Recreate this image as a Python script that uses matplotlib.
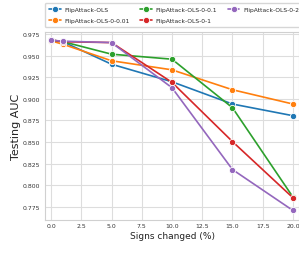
import matplotlib
matplotlib.use("Agg")
import matplotlib.pyplot as plt
import seaborn as sns

sns.set_style("whitegrid")
plt.rcParams['font.family'] = ['DejaVu Sans']

x = [0, 1, 5, 10, 15, 20]
labels = ["FlipAttack-OLS", "FlipAttack-OLS-0-0.01", "FlipAttack-OLS-0-0.1",
          "FlipAttack-OLS-0-1", "FlipAttack-OLS-0-2"]
ols = [0.9677, 0.9658, 0.9400, 0.9197, 0.8940, 0.8805]
ols_001 = [0.9670, 0.9630, 0.9440, 0.9335, 0.9105, 0.8940]
ols_01 = [0.9680, 0.9660, 0.9516, 0.9458, 0.8897, 0.7865]
ols_1 = [0.9680, 0.9660, 0.9650, 0.9190, 0.8506, 0.7857]
ols_2 = [0.9677, 0.9666, 0.9650, 0.9128, 0.8183, 0.7710]
series = [ols, ols_001, ols_01, ols_1, ols_2]
colors = ["#1f77b4", "#ff7f0e", "#2ca02c", "#d62728", "#9467bd"]

fig = plt.figure(figsize=(2.99, 2.55), dpi=100)
ax = fig.add_axes([45/299, 34/255, 254/299, (221-32.5)/255])
for s, c, l in zip(series, colors, labels):
    ax.plot(x, s, color=c, marker='o', markersize=4.5, linewidth=1.2,
            markeredgecolor='white', markeredgewidth=0.6, label=l)

ax.set_xlim(-0.5, 20.5)
ax.set_ylim(0.760, 0.9778)
ax.set_xticks([0, 2.5, 5, 7.5, 10, 12.5, 15, 17.5, 20])
ax.set_xticklabels(["0.0", "2.5", "5.0", "7.5", "10.0", "12.5", "15.0", "17.5", "20.0"])
ax.set_yticks([0.775, 0.8, 0.825, 0.85, 0.875, 0.9, 0.925, 0.95, 0.975])
ax.tick_params(axis='both', labelsize=4.4, colors='#333333', length=0)
ax.tick_params(axis='y', pad=3.5)
ax.tick_params(axis='x', pad=2.5)
ax.set_xlabel("Signs changed (%)", fontsize=6.5, labelpad=2, color='#222222')
ax.set_ylabel("Testing AUC", fontsize=8, labelpad=1.5, color='#222222')
for sp in ax.spines.values():
    sp.set_color('#d0d0d0')
ax.grid(True, color='#dddddd', linewidth=0.8)

fig.legend(loc='upper left', bbox_to_anchor=(45/299, 1 - 4/255), ncol=3,
           fontsize=4.3, frameon=True, handlelength=2.0, columnspacing=1.7,
           borderpad=0.7, labelspacing=0.95, handletextpad=0.6,
           borderaxespad=0)

fig.savefig("out.png", dpi=100)
